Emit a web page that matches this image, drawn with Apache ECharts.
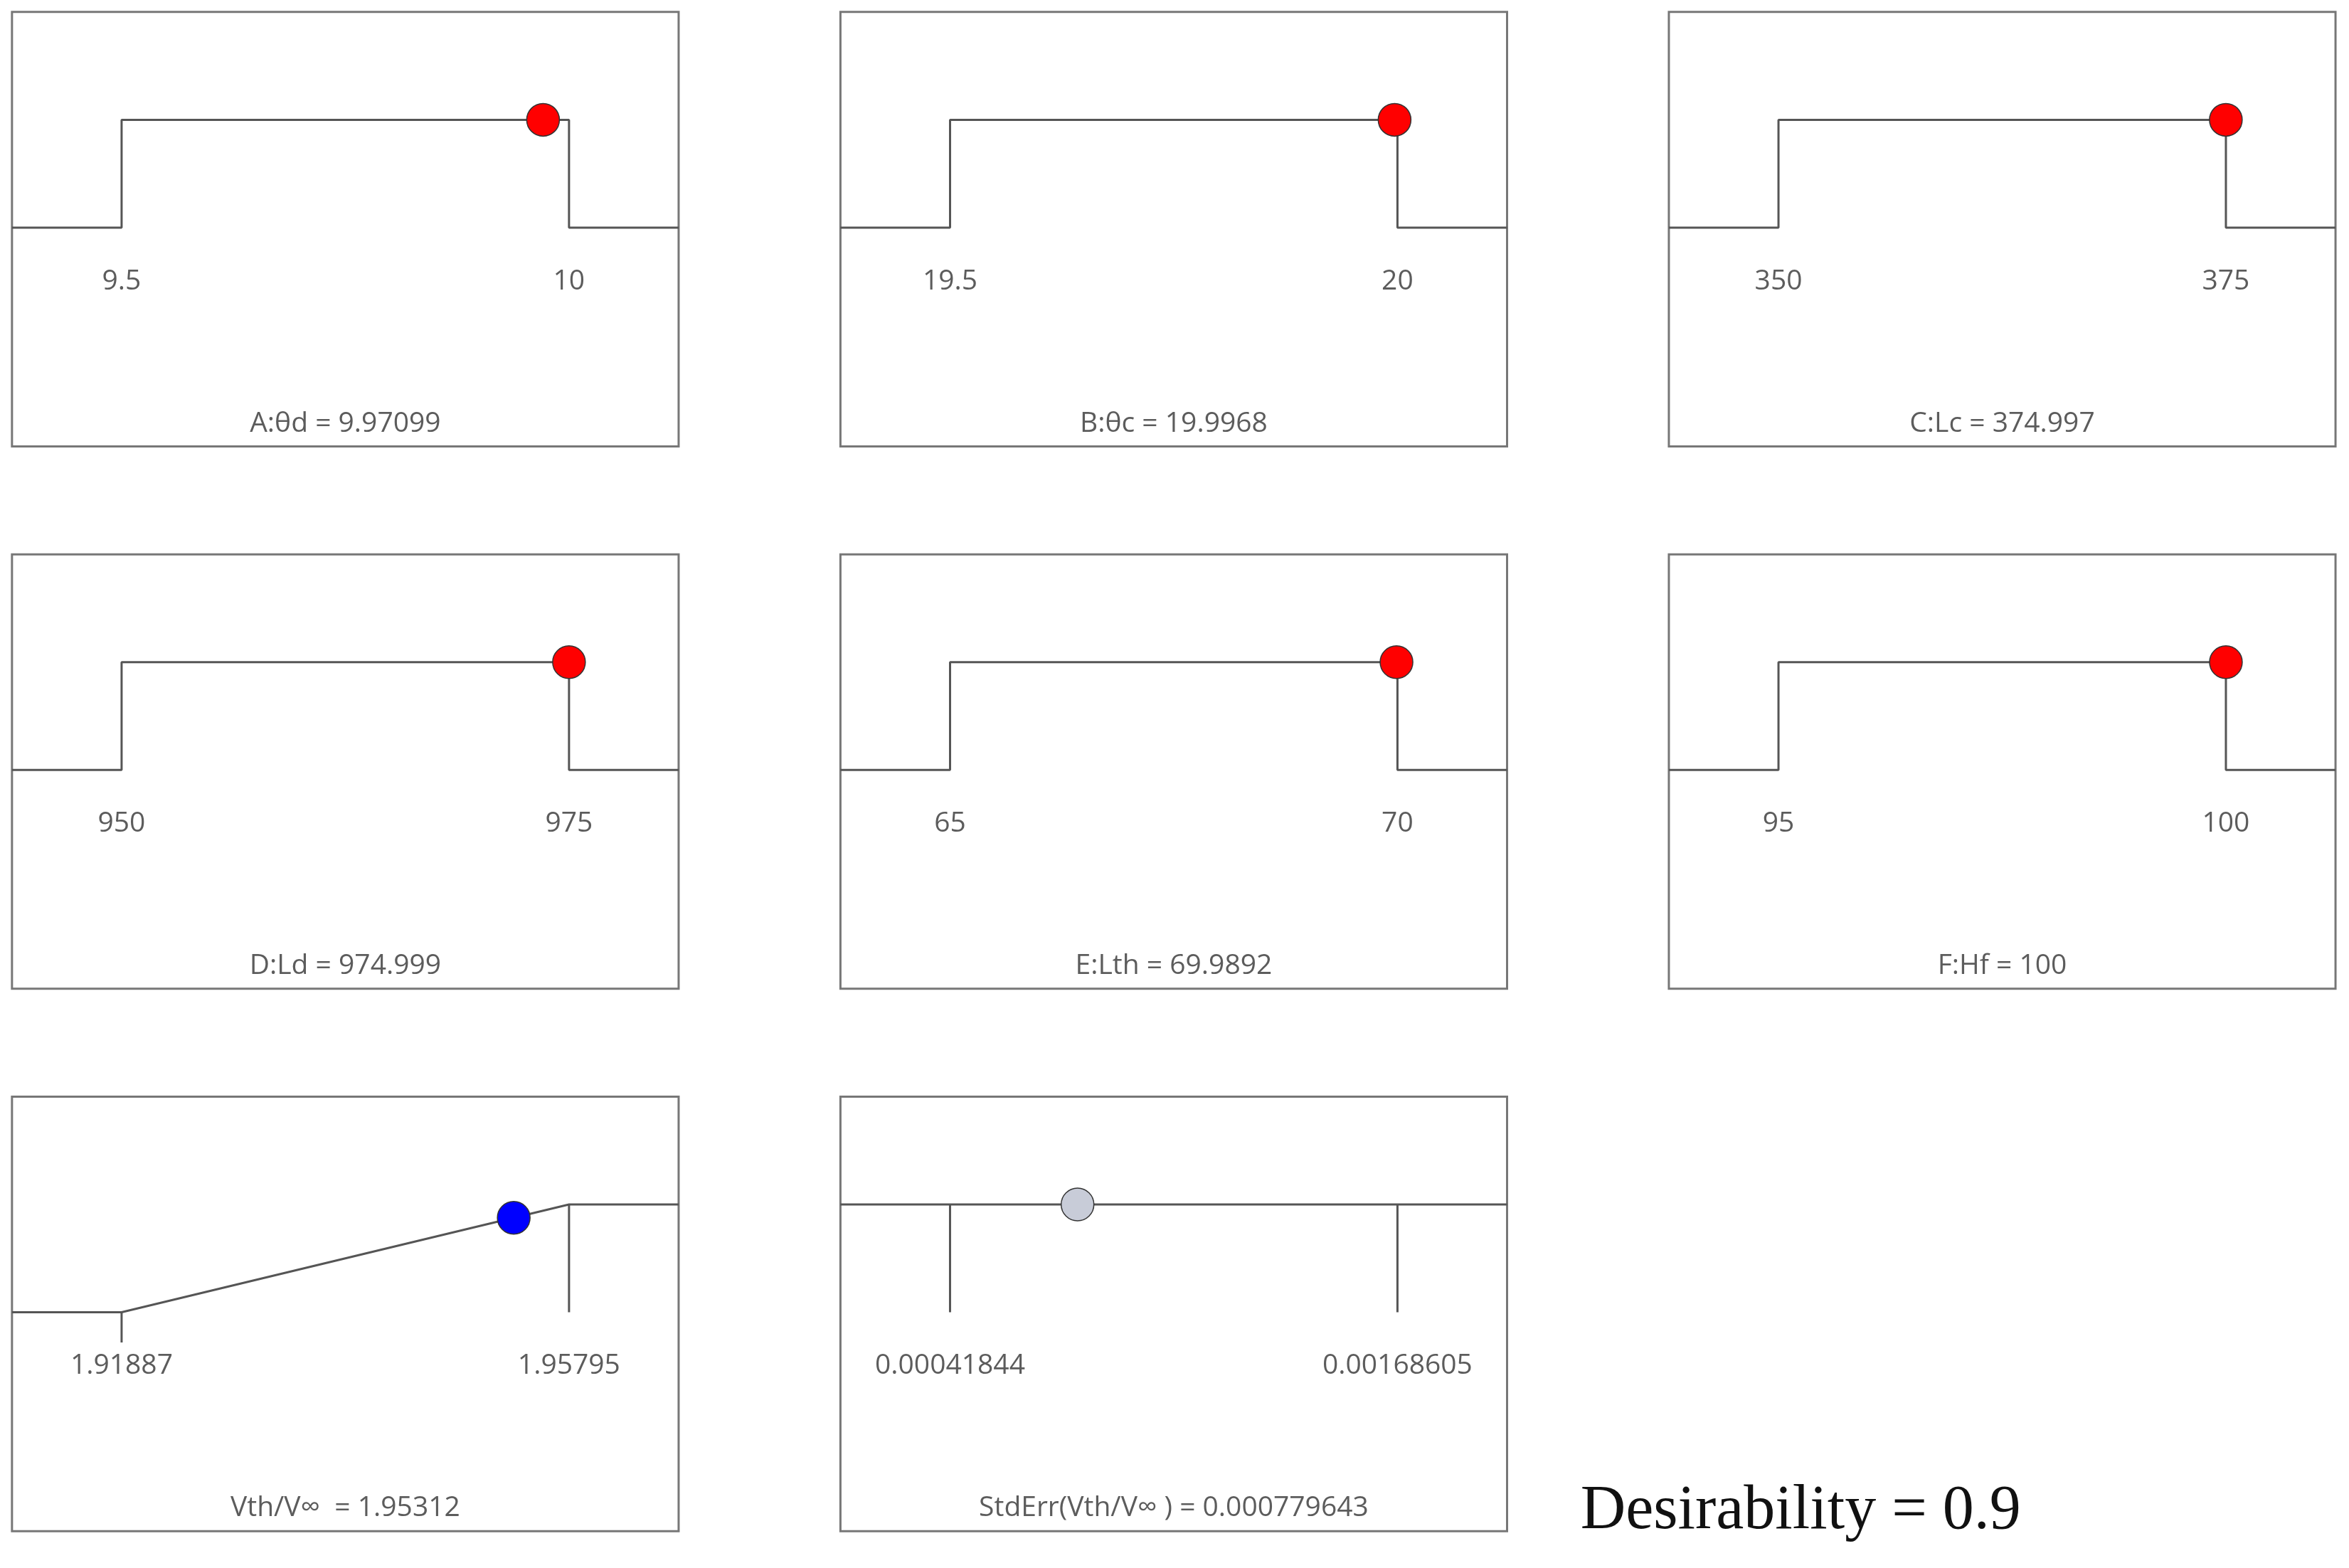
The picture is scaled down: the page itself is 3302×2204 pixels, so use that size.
<!DOCTYPE html>
<html>
<head>
  <meta charset="UTF-8">
  <title>Desirability ramps</title>
  <script src="https://cdn.jsdelivr.net/npm/echarts@6/dist/echarts.min.js"></script>
  <style>html,body{margin:0;background:#fff}#main{width:3302px;height:2204px}</style>
</head>
<body>
<div id="main"></div>
<script type="text/javascript">
  // factor panels and the two response panels
  var names = ['A:θd', 'B:θc', 'C:Lc', 'D:Ld', 'E:Lth', 'F:Hf', 'Vth/V∞ ', 'StdErr(Vth/V∞ )'];
  var lows = [9.5, 19.5, 350, 950, 65, 95, 1.91887, 0.00041844];
  var highs = [10, 20, 375, 975, 70, 100, 1.95795, 0.00168605];
  var lowLabels = ['9.5', '19.5', '350', '950', '65', '95', '1.91887', '0.00041844'];
  var highLabels = ['10', '20', '375', '975', '70', '100', '1.95795', '0.00168605'];
  var values = [9.97099, 19.9968, 374.997, 974.999, 69.9892, 100, 1.95312, 0.000779643];
  var valueLabels = ['9.97099', '19.9968', '374.997', '974.999', '69.9892', '100', '1.95312', '0.000779643'];
  var kinds = ['range', 'range', 'range', 'range', 'range', 'range', 'max', 'none'];
  var desirability = 0.9;

  var sx = 3302 / 1568, sy = sx;
  var colLeft = [8, 561, 1114], rowTop = [8, 370, 732];
  var grids = [], xAxes = [], yAxes = [], series = [];
  var lineStyle = { color: '#555', width: 3 };
  var font = { fontFamily: 'Open Sans', fontSize: 39, color: '#333' };

  for (var i = 0; i < names.length; i++) {
    var lo = lows[i], hi = highs[i], span = hi - lo;
    var xmin = lo - 0.245 * span, xmax = hi + 0.245 * span;
    grids.push({
      left: colLeft[i % 3] * sx, top: rowTop[Math.floor(i / 3)] * sy,
      width: 445 * sx, height: 290 * sy,
      show: true, borderColor: '#777', borderWidth: 3, backgroundColor: '#fff'
    });
    xAxes.push({ gridIndex: i, type: 'value', min: xmin, max: xmax, show: false });
    yAxes.push({ gridIndex: i, type: 'value', min: -2.03, max: 2, show: false });

    var shape, extra = [];
    if (kinds[i] === 'range') {
      shape = [[xmin, 0], [lo, 0], [lo, 1], [hi, 1], [hi, 0], [xmax, 0]];
    } else if (kinds[i] === 'max') {
      shape = [[xmin, 0], [lo, 0], [hi, 1], [xmax, 1]];
      extra = [[[lo, 0], [lo, -0.28]], [[hi, 1], [hi, 0]]];
    } else {
      shape = [[xmin, 1], [xmax, 1]];
      extra = [[[lo, 1], [lo, 0]], [[hi, 1], [hi, 0]]];
    }
    series.push({ type: 'line', xAxisIndex: i, yAxisIndex: i, data: shape, symbol: 'none',
      lineStyle: lineStyle, animation: false, silent: true });
    extra.forEach(function (seg) {
      series.push({ type: 'line', xAxisIndex: i, yAxisIndex: i, data: seg, symbol: 'none',
        lineStyle: lineStyle, animation: false, silent: true });
    });

    // tick labels and panel title
    series.push({
      type: 'scatter', xAxisIndex: i, yAxisIndex: i, symbolSize: 0, animation: false, silent: true,
      data: [
        { value: [lo, -0.5], name: lowLabels[i] },
        { value: [hi, -0.5], name: highLabels[i] },
        { value: [(xmin + xmax) / 2, -1.82], name: names[i] + ' = ' + valueLabels[i] }
      ],
      label: Object.assign({ show: true, position: 'inside', formatter: '{b}' }, font)
    });

    var dy = 1, color = '#ff0000';
    if (kinds[i] === 'max') { dy = (values[i] - lo) / span; color = '#0000ff'; }
    if (kinds[i] === 'none') { color = '#c8ccd8'; }
    series.push({
      type: 'scatter', xAxisIndex: i, yAxisIndex: i, symbolSize: 46, animation: false,
      data: [[values[i], dy]],
      itemStyle: { color: color, opacity: 1, borderColor: '#333', borderWidth: 1.5 }, z: 5
    });
  }

  var myChart = echarts.init(document.getElementById('main'));
  myChart.setOption({
    animation: false,
    grid: grids, xAxis: xAxes, yAxis: yAxes, series: series,
    graphic: [{
      type: 'text', left: 1055 * sx, top: 988 * sy,
      style: { text: 'Desirability = ' + desirability, fontFamily: 'Liberation Serif', fontSize: 88, fill: '#111' }
    }]
  });
</script>
</body>
</html>
